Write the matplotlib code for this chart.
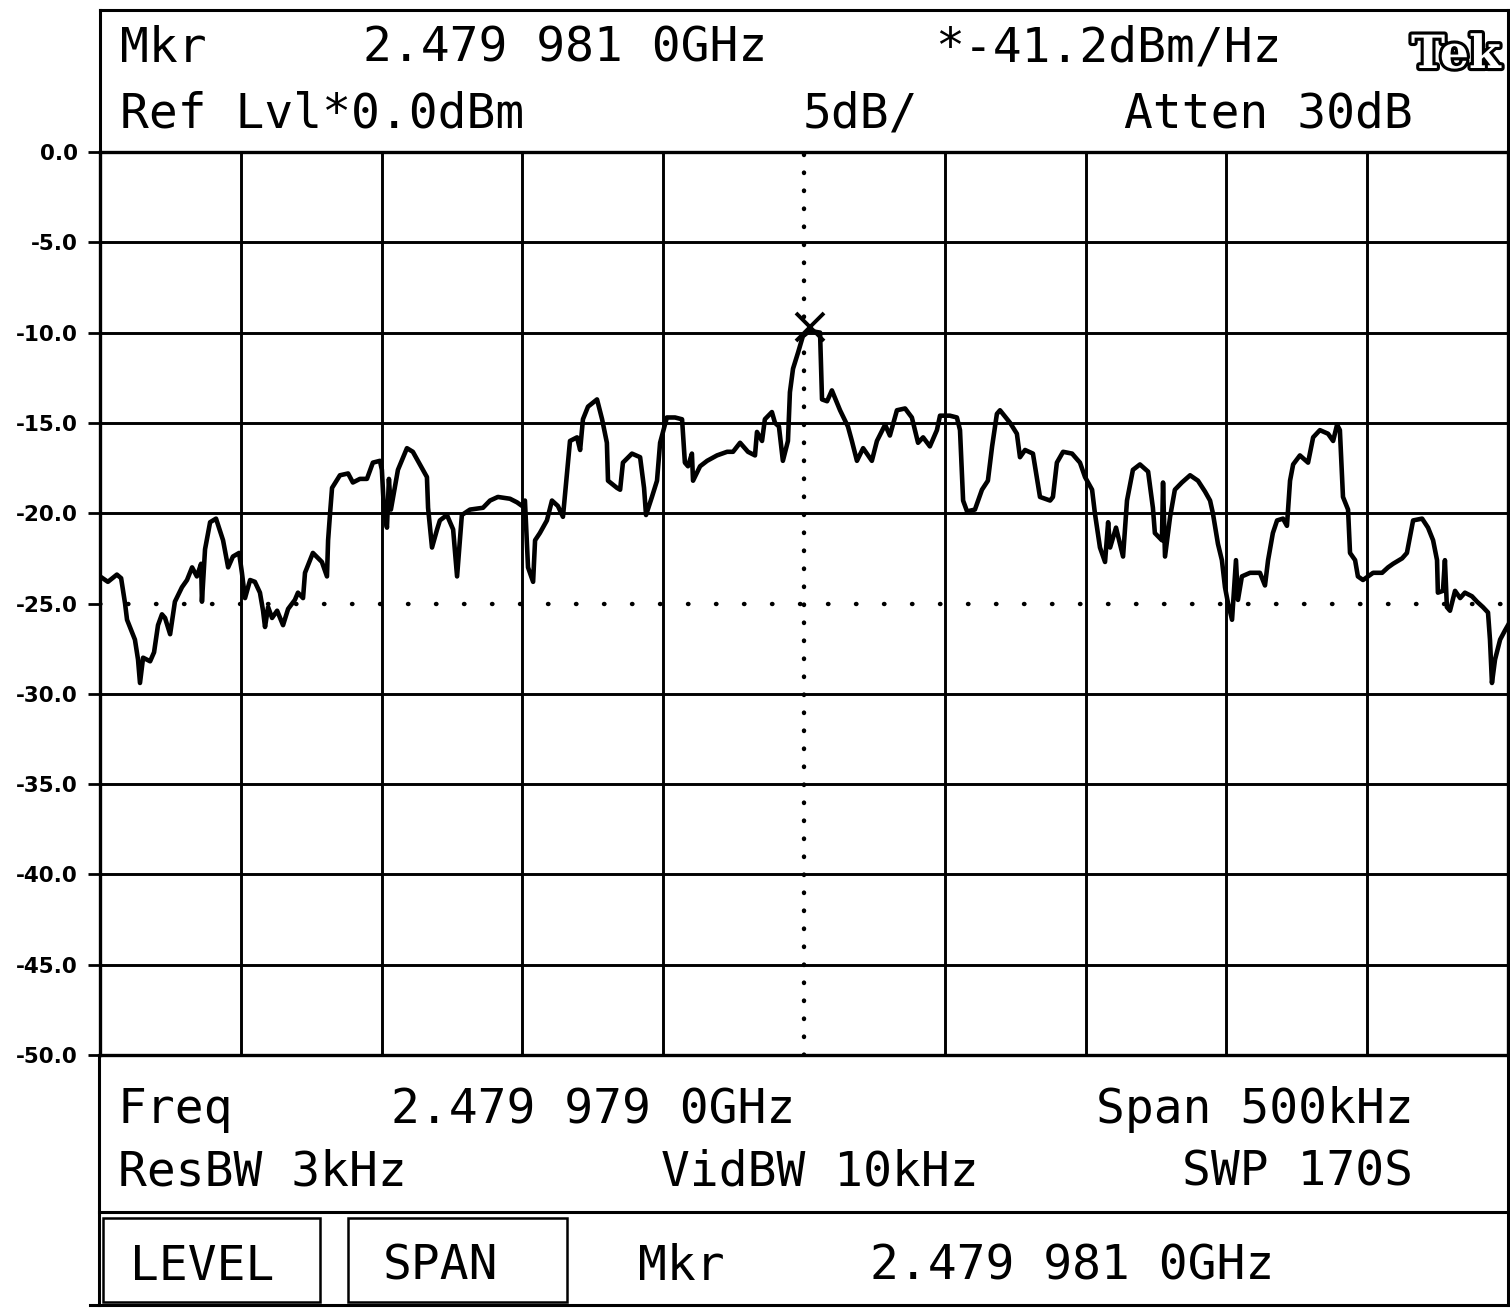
import matplotlib
matplotlib.use("Agg")
import matplotlib.pyplot as plt
import matplotlib.patheffects as pe
from matplotlib.lines import Line2D
from matplotlib.patches import Rectangle
import numpy as np

W, H = 1510, 1311

# trace: offset from centre frequency (kHz) and level (dBm)
freq_khz = [
    -250.0, -247.2, -244.0, -242.5, -241.1, -240.4, -237.6, -236.5, -235.8, -234.7,
    -232.2, -230.8, -229.4, -228.0, -226.9, -225.1, -223.4, -220.9, -219.1, -217.3,
    -215.6, -214.1, -213.8, -212.7, -210.9, -208.8, -206.3, -204.5, -202.8, -200.6,
    -199.6, -198.5, -196.7, -195.0, -193.2, -192.1, -191.4, -190.3, -188.9, -187.1,
    -185.0, -183.2, -180.8, -179.7, -177.9, -177.2, -174.4, -171.2, -169.4, -169.0,
    -168.3, -167.6, -164.8, -161.9, -160.2, -157.7, -155.2, -153.1, -150.6, -149.9,
    -149.2, -148.1, -147.4, -146.7, -144.2, -141.0, -138.9, -136.4, -133.9, -133.5,
    -132.1, -130.3, -129.3, -126.8, -124.6, -123.2, -121.5, -118.6, -114.0, -111.5,
    -108.7, -104.4, -101.9, -100.1, -99.1, -98.0, -96.2, -95.5, -93.8, -91.3,
    -89.5, -87.4, -85.6, -83.1, -80.6, -79.5, -78.5, -76.7, -73.5, -71.7,
    -70.0, -69.6, -66.4, -65.3, -64.3, -61.1, -58.2, -56.8, -56.1, -54.0,
    -52.2, -51.1, -48.7, -45.8, -43.3, -42.3, -41.2, -39.8, -39.4, -36.9,
    -34.4, -30.9, -27.3, -25.2, -22.7, -19.9, -17.4, -16.7, -14.9, -13.9,
    -11.4, -10.3, -8.9, -7.5, -5.7, -5.0, -3.9, -2.1, -0.4, 2.0,
    5.7, 6.4, 8.2, 9.9, 12.8, 15.6, 17.0, 18.8, 21.0, 24.1,
    25.9, 28.8, 30.5, 33.0, 35.9, 38.3, 40.5, 42.3, 44.7, 47.2,
    48.3, 51.8, 54.3, 55.4, 56.5, 57.9, 60.7, 63.2, 65.3, 66.8,
    68.5, 69.6, 73.2, 75.6, 76.7, 78.5, 81.3, 83.8, 87.4, 88.4,
    89.8, 92.0, 95.2, 98.0, 99.8, 102.3, 103.3, 105.1, 106.9, 108.0,
    108.7, 110.8, 113.3, 114.7, 116.8, 119.3, 122.2, 123.9, 124.6, 127.1,
    127.5, 128.2, 130.0, 131.7, 134.2, 137.1, 139.9, 142.4, 144.2, 145.2,
    147.0, 148.4, 149.5, 150.6, 152.0, 153.4, 154.1, 155.5, 158.4, 161.9,
    163.7, 164.8, 166.5, 168.0, 170.1, 171.5, 172.6, 173.7, 176.1, 179.0,
    180.8, 183.2, 186.1, 187.9, 189.3, 190.3, 191.4, 193.2, 193.9, 195.7,
    196.7, 198.5, 202.1, 205.3, 207.4, 209.2, 212.4, 214.1, 215.2, 216.3,
    219.5, 221.6, 223.4, 224.8, 225.1, 226.9, 227.6, 228.3, 229.4, 231.2,
    233.0, 234.7, 237.2, 239.0, 241.1, 242.9, 243.6, 244.3, 245.4, 247.2,
    248.9, 250.0,
]
level_dbm = [
    -23.5, -23.8, -23.4, -23.6, -25.0, -25.9, -27.0, -28.1, -29.4, -28.0,
    -28.2, -27.7, -26.2, -25.6, -25.8, -26.7, -24.9, -24.1, -23.7, -23.0,
    -23.5, -22.8, -24.9, -22.0, -20.5, -20.3, -21.5, -23.0, -22.4, -22.2,
    -23.3, -24.7, -23.7, -23.8, -24.4, -25.4, -26.3, -25.2, -25.8, -25.4,
    -26.2, -25.3, -24.8, -24.4, -24.7, -23.3, -22.2, -22.7, -23.5, -21.5,
    -20.0, -18.6, -17.9, -17.8, -18.3, -18.1, -18.1, -17.2, -17.1, -17.6,
    -19.7, -20.8, -18.1, -19.8, -17.6, -16.4, -16.6, -17.3, -18.0, -19.7,
    -21.9, -20.9, -20.4, -20.1, -20.9, -23.5, -20.1, -19.8, -19.7, -19.3,
    -19.1, -19.2, -19.4, -19.6, -19.3, -23.0, -23.8, -21.5, -21.1, -20.4,
    -19.3, -19.6, -20.2, -16.0, -15.8, -16.5, -14.8, -14.1, -13.7, -14.8,
    -16.1, -18.2, -18.6, -18.7, -17.2, -16.7, -16.9, -18.6, -20.1, -19.1,
    -18.2, -16.1, -14.7, -14.7, -14.8, -17.2, -17.4, -16.7, -18.2, -17.4,
    -17.1, -16.8, -16.6, -16.6, -16.1, -16.6, -16.8, -15.5, -16.0, -14.8,
    -14.4, -15.0, -15.2, -17.1, -16.0, -13.3, -12.0, -11.1, -10.2, -9.9,
    -10.0, -13.7, -13.8, -13.2, -14.3, -15.2, -16.0, -17.1, -16.4, -17.1,
    -16.0, -15.1, -15.7, -14.3, -14.2, -14.7, -16.1, -15.8, -16.3, -15.4,
    -14.6, -14.6, -14.7, -15.4, -19.3, -19.9, -19.8, -18.7, -18.2, -16.3,
    -14.5, -14.3, -15.0, -15.6, -16.9, -16.5, -16.7, -19.1, -19.3, -19.1,
    -17.2, -16.6, -16.7, -17.2, -18.0, -18.7, -20.0, -21.9, -22.7, -20.5,
    -21.9, -20.8, -22.4, -19.3, -17.6, -17.3, -17.7, -19.7, -21.1, -21.5,
    -18.3, -22.4, -20.2, -18.7, -18.3, -17.9, -18.2, -18.8, -19.3, -20.0,
    -21.7, -22.6, -24.1, -25.0, -25.9, -22.6, -24.8, -23.5, -23.3, -23.3,
    -24.0, -22.6, -21.1, -20.4, -20.3, -20.7, -18.2, -17.3, -16.8, -17.2,
    -15.8, -15.4, -15.6, -16.0, -15.1, -15.4, -19.1, -19.8, -22.2, -22.6,
    -23.5, -23.7, -23.3, -23.3, -23.0, -22.8, -22.5, -22.2, -21.3, -20.4,
    -20.3, -20.8, -21.5, -22.6, -24.4, -24.3, -22.6, -25.2, -25.4, -24.3,
    -24.7, -24.4, -24.6, -24.9, -25.2, -25.5, -27.0, -29.4, -28.1, -27.0,
    -26.5, -26.2,
]

center_ghz = 2.4799790
marker_ghz = 2.4799810
span_khz = 500
ref_level = 0.0
db_per_div = 5
n_div = 10

plt.rcParams['axes.unicode_minus'] = False
fig = plt.figure(figsize=(W / 100, H / 100), dpi=100)


def fx(px):
    return px / W


def fy(py):
    return 1 - py / H


ax = fig.add_axes([fx(100), fy(1055), fx(1508) - fx(100), fy(152) - fy(1055)])
ax.set_xlim(-span_khz / 2, span_khz / 2)
ax.set_ylim(ref_level - n_div * db_per_div, ref_level)

xg = np.linspace(-span_khz / 2, span_khz / 2, n_div + 1)
yg = np.linspace(ref_level - n_div * db_per_div, ref_level, n_div + 1)
for x in xg[1:-1]:
    if abs(x) < 1e-9:
        ax.axvline(x, color='k', lw=3.2, ls=(0, (0.1, 3.95)), dash_capstyle='round')
    else:
        ax.axvline(x, color='k', lw=2.1)
for y in yg[1:-1]:
    if abs(y - (ref_level - n_div * db_per_div / 2)) < 1e-9:
        ax.axhline(y, color='k', lw=3.2, ls=(0, (0.1, 6.2)), dash_capstyle='round')
    else:
        ax.axhline(y, color='k', lw=2.1)

ax.plot(freq_khz, level_dbm, color='k', lw=3.3, solid_joinstyle='round')

# marker at the peak
mk = (marker_ghz - center_ghz) * 1e6
i_pk = int(np.argmax(level_dbm))
ax.plot(mk, level_dbm[i_pk] + 0.2, marker='x', color='k', ms=20, mew=2.8)

for s in ax.spines.values():
    s.set_linewidth(2.4)
ax.set_xticks([])
ax.set_yticks(yg)
ax.set_yticklabels(['%.1f' % v for v in yg], fontsize=15.5, fontweight='heavy')
ax.tick_params(axis='y', length=9, width=2, pad=7)

# header / footer frames
def hline(x0, x1, y, lw=2.2):
    fig.add_artist(Line2D([fx(x0), fx(x1)], [fy(y), fy(y)], color='k', lw=lw))


def vline(x, y0, y1, lw=2.2):
    fig.add_artist(Line2D([fx(x), fx(x)], [fy(y0), fy(y1)], color='k', lw=lw))


hline(100, 1508, 10)
vline(100, 10, 152)
vline(1508, 10, 152)
vline(99, 1055, 1305)
vline(1508, 1055, 1305)
hline(99, 1508, 1212)
hline(90, 1508, 1305)
for x0, x1 in [(103, 320), (348, 567)]:
    fig.add_artist(Rectangle((fx(x0), fy(1302)), fx(x1) - fx(x0), fy(1218) - fy(1302),
                             fill=False, ec='k', lw=1.8, transform=fig.transFigure))

mono = 'DejaVu Sans Mono'


def put(x, base, s, ha='center'):
    fig.text(fx(x), fy(base), s, family=mono, fontsize=34.5, ha=ha, va='baseline')


put(120, 62, 'Mkr', 'left')
put(565, 62, '2.479 981 0GHz')
put(1108, 62, '*-41.2dBm/Hz')
put(120, 128, 'Ref Lvl*0.0dBm', 'left')
put(860, 128, '5dB/')
put(1268, 128, 'Atten 30dB')

put(118, 1123, 'Freq', 'left')
put(593, 1123, '2.479 979 0GHz')
put(1255, 1123, 'Span 500kHz')
put(118, 1185, 'ResBW 3kHz', 'left')
put(820, 1185, 'VidBW 10kHz')
put(1298, 1185, 'SWP 170S')
put(202, 1280, 'LEVEL')
put(441, 1280, 'SPAN')
put(681, 1280, 'Mkr')
put(1072, 1280, '2.479 981 0GHz')

fig.text(fx(1456), fy(68), 'Tek', family='DejaVu Serif', fontweight='bold', fontsize=33,
         ha='center', va='baseline', color='white',
         path_effects=[pe.Stroke(linewidth=4.5, foreground='k'), pe.Normal()])

fig.savefig('out.png', dpi=100)
